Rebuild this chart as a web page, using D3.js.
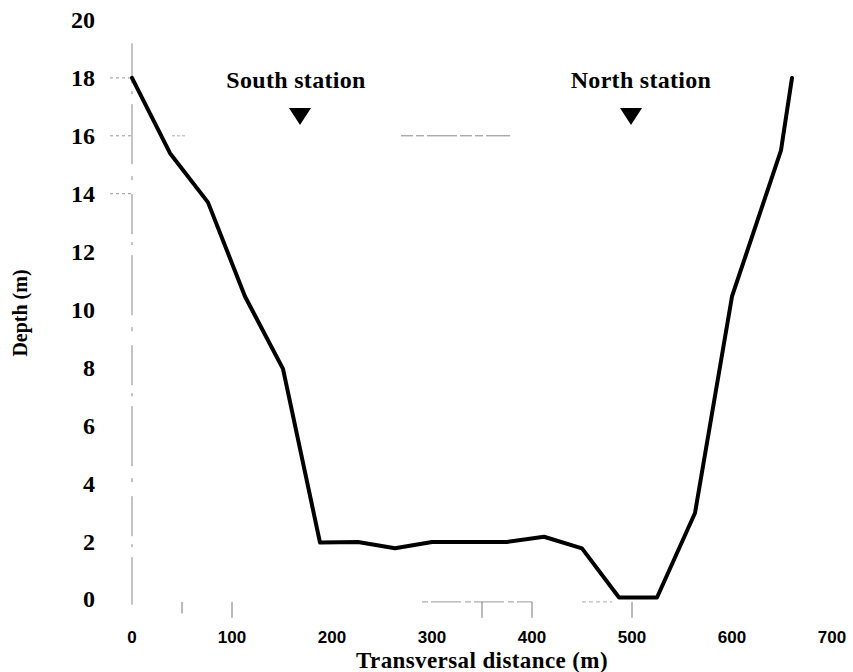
<!DOCTYPE html>
<html>
<head>
<meta charset="utf-8">
<script src="https://cdn.jsdelivr.net/npm/d3@7/dist/d3.min.js"></script>
<style>
  html, body { margin: 0; padding: 0; background: #fff; }
  svg { display: block; }
</style>
</head>
<body>
<svg id="chart" width="853" height="672"></svg>
<script>
// Data
const distance = [0, 38, 76, 113, 151, 188, 226, 263, 300, 338, 375, 412, 450, 487, 525, 563, 600, 649, 660];
const depth    = [18, 15.4, 13.7, 10.45, 7.95, 1.95, 1.97, 1.75, 1.97, 1.97, 1.97, 2.15, 1.75, 0.05, 0.05, 2.97, 10.45, 15.5, 18];
const xTicks = [0, 100, 200, 300, 400, 500, 600, 700];
const yTicks = [0, 2, 4, 6, 8, 10, 12, 14, 16, 18, 20];
const stationNames = ["South station", "North station"];
const stationX = [168, 499];
const stationDepth = [16.37, 16.37];

const svg = d3.select("#chart");
const x = d3.scaleLinear().domain([0, 700]).range([132, 832]);
const y = d3.scaleLinear().domain([0, 20]).range([599, 20]);

const serif = "'Liberation Serif', 'Times New Roman', serif";

// faint y axis line (scanned look)
svg.append("line")
  .attr("x1", x(0)).attr("x2", x(0))
  .attr("y1", y(19.2)).attr("y2", y(-0.2))
  .attr("stroke", "#888").attr("stroke-width", 1)
  .attr("stroke-dasharray", "40,8,3,10,60,12,4,14");

// small tick fragments
svg.append("g").selectAll("line").data([18, 16, 14]).join("line")
  .attr("x1", x(0) - 22).attr("x2", x(0))
  .attr("y1", d => y(d)).attr("y2", d => y(d))
  .attr("stroke", "#999").attr("stroke-width", 1)
  .attr("stroke-dasharray", "3,3");
svg.append("line")
  .attr("x1", x(40)).attr("x2", x(53))
  .attr("y1", y(16)).attr("y2", y(16))
  .attr("stroke", "#aaa").attr("stroke-width", 1)
  .attr("stroke-dasharray", "3,2");
svg.append("line")
  .attr("x1", x(269)).attr("x2", x(378))
  .attr("y1", y(16)).attr("y2", y(16))
  .attr("stroke", "#888").attr("stroke-width", 1)
  .attr("stroke-dasharray", "12,3,8,3,30,3");

// faint bottom fragments
svg.append("line")
  .attr("x1", x(290)).attr("x2", x(400))
  .attr("y1", y(-0.1)).attr("y2", y(-0.1))
  .attr("stroke", "#999").attr("stroke-width", 1)
  .attr("stroke-dasharray", "6,3,30,4");
svg.append("g").selectAll("line").data([50, 100, 350, 400, 500]).join("line")
  .attr("x1", d => x(d)).attr("x2", d => x(d))
  .attr("y1", y(-0.1)).attr("y2", (d, i) => y(i === 0 ? -0.5 : -0.65))
  .attr("stroke", "#777").attr("stroke-width", 1);
svg.append("line")
  .attr("x1", x(450)).attr("x2", x(480))
  .attr("y1", y(-0.1)).attr("y2", y(-0.1))
  .attr("stroke", "#aaa").attr("stroke-width", 1)
  .attr("stroke-dasharray", "4,3");

// Y tick labels
svg.append("g").selectAll("text").data(yTicks).join("text")
  .attr("x", 95)
  .attr("y", d => y(d))
  .attr("dy", "0.35em")
  .attr("text-anchor", "end")
  .attr("font-family", serif)
  .attr("font-weight", "bold")
  .attr("font-size", 24)
  .text(d => d);

// X tick labels
svg.append("g").selectAll("text").data(xTicks).join("text")
  .attr("x", d => x(d))
  .attr("y", 643)
  .attr("text-anchor", "middle")
  .attr("font-family", "'Liberation Sans', Arial, sans-serif")
  .attr("font-weight", "bold")
  .attr("font-size", 17)
  .text(d => d);

// Axis titles
svg.append("text")
  .attr("x", 482).attr("y", 668)
  .attr("text-anchor", "middle")
  .attr("font-family", serif)
  .attr("font-weight", "bold")
  .attr("font-size", 23)
  .attr("letter-spacing", 0.4)
  .text("Transversal distance (m)");

svg.append("text")
  .attr("transform", "translate(27,313) rotate(-90)")
  .attr("text-anchor", "middle")
  .attr("font-family", serif)
  .attr("font-weight", "bold")
  .attr("font-size", 20)
  .text("Depth (m)");

// Profile line
const line = d3.line().x((d, i) => x(distance[i])).y((d, i) => y(depth[i]));
svg.append("path")
  .datum(depth)
  .attr("d", line)
  .attr("fill", "none")
  .attr("stroke", "#000")
  .attr("stroke-width", 4)
  .attr("stroke-linejoin", "round")
  .attr("stroke-linecap", "round");

// Stations
const st = svg.append("g").selectAll("g").data(stationNames).join("g");
st.append("text")
  .attr("x", (d, i) => x(stationX[i]) + (i === 0 ? -4 : 10))
  .attr("y", 88)
  .attr("text-anchor", "middle")
  .attr("font-family", serif)
  .attr("font-weight", "bold")
  .attr("font-size", 24)
  .attr("letter-spacing", 0.3)
  .text(d => d);
st.append("path")
  .attr("d", (d, i) => {
    const cx = x(stationX[i]), cy = y(stationDepth[i]);
    return `M${cx - 11},${cy - 17}L${cx + 11},${cy - 17}L${cx},${cy}Z`;
  })
  .attr("fill", "#000");
</script>
</body>
</html>
